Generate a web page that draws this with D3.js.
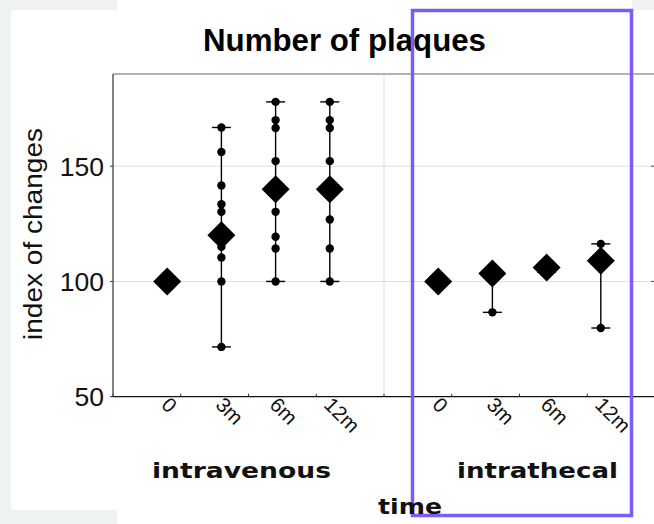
<!DOCTYPE html>
<html>
<head>
<meta charset="utf-8">
<script src="https://cdn.jsdelivr.net/npm/d3@7"></script>
<style>
  html, body { margin: 0; padding: 0; background: #ffffff; }
  svg { display: block; }
</style>
</head>
<body>
<svg id="chart" width="654" height="524"></svg>
<script>
// ---- data ----
const groups = ["intravenous", "intrathecal"];
const timeLabels = ["0", "3m", "6m", "12m"];
const yTicks = [50, 100, 150];
const meansIntravenous = [100, 120, 140, 140];
const meansIntrathecal = [100, 103.5, 106, 109];
const pointsIntravenous = [
  [100],
  [166.8, 156.2, 141.6, 133.5, 130.2, 115, 110.4, 100, 71.6],
  [177.9, 170, 166.6, 152.2, 130.2, 119.4, 114.3, 100],
  [177.9, 170, 166.6, 152.2, 126.9, 114.3, 100]
];
const pointsIntrathecal = [
  [100],
  [86.6, 103.5, 105],
  [104, 107],
  [116.3, 108, 79.8]
];
const titleText = "Number of plaques";
const yTitle = "index of changes";
const xTitle = "time";

(function () {
// ---- layout ----
const svg = d3.select("#chart");
const W = 654, H = 524;
const pLeft = 113, pRight = 655, pTop = 74, pBottom = 396.7;

// backdrop pieces
const bg = "#eef2f1";
svg.append("rect").attr("x", 0).attr("y", 0).attr("width", W).attr("height", H).attr("fill", "#fff");
svg.append("rect").attr("x", 0).attr("y", 0).attr("width", 11).attr("height", H).attr("fill", bg);
svg.append("rect").attr("x", 0).attr("y", 0).attr("width", 117).attr("height", 10).attr("fill", bg);
svg.append("rect").attr("x", 0).attr("y", 510).attr("width", 117).attr("height", 14).attr("fill", bg);
svg.append("rect").attr("x", 632).attr("y", 0).attr("width", 22).attr("height", 10).attr("fill", bg);

const x = d3.scaleLinear().domain([0, 10]).range([pLeft, pRight]);
const y = d3.scaleLinear().domain([50, 190]).range([pBottom, pTop]);

const g = svg.append("g");

// gridlines
g.selectAll("line.hgrid").data([100, 150]).join("line")
  .attr("x1", pLeft).attr("x2", pRight)
  .attr("y1", d => y(d)).attr("y2", d => y(d))
  .attr("stroke", "#dedede").attr("stroke-width", 1);
g.append("line")
  .attr("x1", x(5)).attr("x2", x(5)).attr("y1", pTop).attr("y2", pBottom)
  .attr("stroke", "#dedede").attr("stroke-width", 1);

// border / axes
g.append("line").attr("x1", pLeft).attr("x2", pRight).attr("y1", pTop).attr("y2", pTop)
  .attr("stroke", "#666").attr("stroke-width", 1.2);
g.append("line").attr("x1", pLeft).attr("x2", pLeft).attr("y1", pTop).attr("y2", pBottom)
  .attr("stroke", "#333").attr("stroke-width", 1.2);
g.append("line").attr("x1", pLeft).attr("x2", pRight).attr("y1", pBottom).attr("y2", pBottom)
  .attr("stroke", "#111").attr("stroke-width", 1.2);

// bottom inner ticks
g.selectAll("line.xt").data(d3.range(0, 10.01, 1.25)).join("line")
  .attr("x1", d => x(d)).attr("x2", d => x(d))
  .attr("y1", pBottom).attr("y2", pBottom - 3)
  .attr("stroke", "#333").attr("stroke-width", 1);

// y ticks
g.selectAll("line.yt").data(yTicks).join("line")
  .attr("x1", pLeft - 3).attr("x2", pLeft)
  .attr("y1", d => y(d)).attr("y2", d => y(d))
  .attr("stroke", "#333").attr("stroke-width", 1);
g.selectAll("line.yt2").data([100, 150]).join("line")
  .attr("x1", 651).attr("x2", 654)
  .attr("y1", d => y(d)).attr("y2", d => y(d))
  .attr("stroke", "#555").attr("stroke-width", 1);

g.selectAll("text.ytl").data(yTicks).join("text")
  .attr("x", 104).attr("y", d => y(d) + 9.5)
  .attr("text-anchor", "end")
  .attr("font-family", "Liberation Sans, Arial, sans-serif")
  .attr("font-size", 26.5).attr("fill", "#111")
  .text(d => d);

// y title
svg.append("text")
  .attr("transform", "translate(42,234) rotate(-90)")
  .attr("text-anchor", "middle")
  .attr("font-family", "Liberation Sans, Arial, sans-serif")
  .attr("font-size", 26).attr("fill", "#111")
  .attr("textLength", 212).attr("lengthAdjust", "spacingAndGlyphs")
  .text(yTitle);

// title
svg.append("text")
  .attr("x", 344.5).attr("y", 51)
  .attr("text-anchor", "middle")
  .attr("font-family", "Liberation Sans, Arial, sans-serif")
  .attr("font-weight", "bold")
  .attr("font-size", 31).attr("fill", "#000")
  .attr("textLength", 283).attr("lengthAdjust", "spacingAndGlyphs")
  .text(titleText);

// x tick labels
const xlab = [];
groups.forEach((grp, gi) => timeLabels.forEach((t, i) => xlab.push({pos: gi * 5 + i + 1, t})));
g.selectAll("text.xtl").data(xlab).join("text")
  .attr("transform", d => `translate(${x(d.pos) - 7},${406}) rotate(45)`)
  .attr("text-anchor", "start")
  .attr("font-family", "Liberation Sans, Arial, sans-serif")
  .attr("font-size", 20.5).attr("fill", "#111")
  .text(d => d.t);

// group labels
const groupCenters = [241.5, 537.5];
const groupWidths = [179, 161];
svg.selectAll("text.grp").data(groups).join("text")
  .attr("x", (d, i) => groupCenters[i]).attr("y", 478)
  .attr("text-anchor", "middle")
  .attr("font-family", "DejaVu Sans, Verdana, sans-serif")
  .attr("font-weight", "bold")
  .attr("font-size", 22).attr("fill", "#111")
  .attr("textLength", (d, i) => groupWidths[i]).attr("lengthAdjust", "spacingAndGlyphs")
  .text(d => d);

// data marks
const series = [
  {means: meansIntravenous, pts: pointsIntravenous},
  {means: meansIntrathecal, pts: pointsIntrathecal}
];
const ranges = [], dots = [], diamonds = [];
series.forEach((s, gi) => {
  s.pts.forEach((arr, i) => {
    const pos = gi * 5 + i + 1;
    ranges.push({pos, min: d3.min(arr), max: d3.max(arr)});
    arr.forEach(v => dots.push({pos, v}));
    diamonds.push({pos, v: s.means[i]});
  });
});

const marks = g.append("g");
marks.selectAll("line.rng").data(ranges.filter(r => r.max > r.min)).join("line")
  .attr("x1", d => x(d.pos)).attr("x2", d => x(d.pos))
  .attr("y1", d => y(d.min)).attr("y2", d => y(d.max))
  .attr("stroke", "#000").attr("stroke-width", 1.4);
const caps = [];
ranges.filter(r => r.max > r.min).forEach(r => { caps.push({pos: r.pos, v: r.min}); caps.push({pos: r.pos, v: r.max}); });
marks.selectAll("line.cap").data(caps).join("line")
  .attr("x1", d => x(d.pos) - 9.5).attr("x2", d => x(d.pos) + 9.5)
  .attr("y1", d => y(d.v)).attr("y2", d => y(d.v))
  .attr("stroke", "#000").attr("stroke-width", 1.4);
marks.selectAll("circle").data(dots).join("circle")
  .attr("cx", d => x(d.pos)).attr("cy", d => y(d.v)).attr("r", 4.2)
  .attr("fill", "#000");
marks.selectAll("path.dia").data(diamonds).join("path")
  .attr("transform", d => `translate(${x(d.pos)},${y(d.v)})`)
  .attr("d", "M0,-14L14,0L0,14L-14,0Z")
  .attr("fill", "#000");

// annotation box
svg.append("rect")
  .attr("x", 412.5).attr("y", 10.5).attr("width", 219).attr("height", 505)
  .attr("fill", "none").attr("stroke", "#7a5cf6").attr("stroke-width", 3.5);

// x title (drawn over box as in reference)
svg.append("text")
  .attr("x", 410).attr("y", 514)
  .attr("text-anchor", "middle")
  .attr("font-family", "DejaVu Sans, Verdana, sans-serif")
  .attr("font-weight", "bold")
  .attr("font-size", 22).attr("fill", "#111")
  .attr("textLength", 64).attr("lengthAdjust", "spacingAndGlyphs")
  .text(xTitle);
})();
</script>
</body>
</html>
